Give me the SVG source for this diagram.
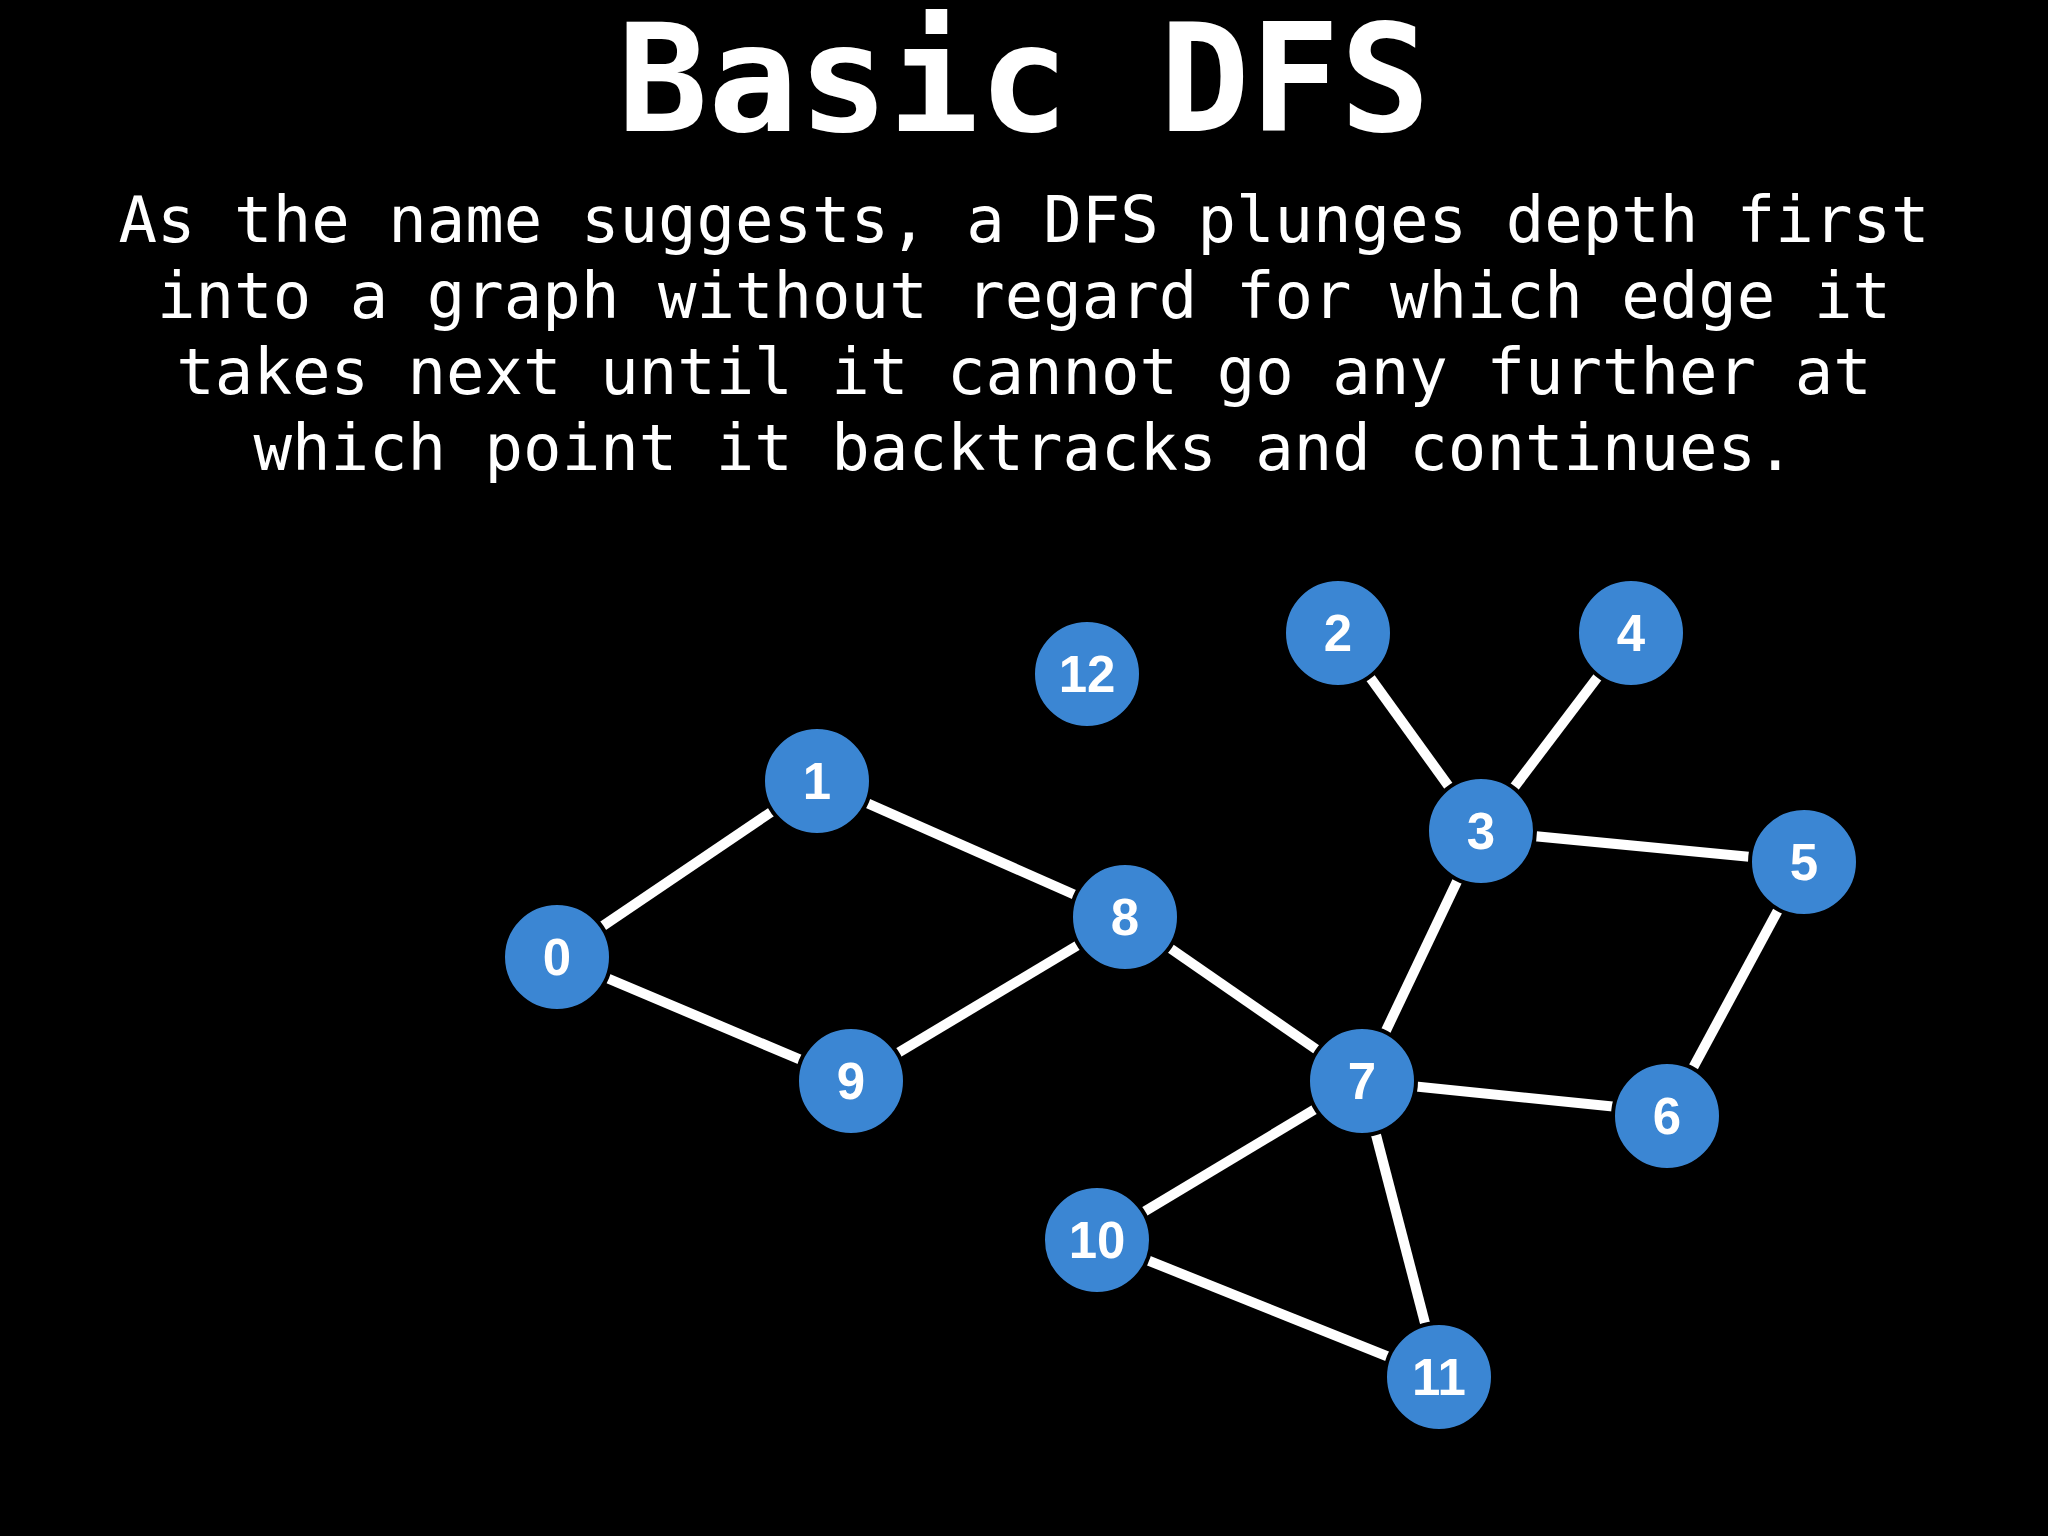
<svg xmlns="http://www.w3.org/2000/svg" width="2048" height="1536" viewBox="0 0 2048 1536">
<style>
.title{font-family:"DejaVu Sans Mono","Liberation Mono",monospace;font-weight:bold;font-size:150px;fill:#fff;text-anchor:middle}
.body{font-family:"DejaVu Sans Mono","Liberation Mono",monospace;font-size:64px;fill:#fff;text-anchor:middle}
.edge{stroke:#fff;stroke-width:10}
.node circle{fill:#3b86d3;stroke:#000;stroke-width:4}
.node text{font-family:"Liberation Sans",Arial,sans-serif;font-weight:bold;font-size:51px;fill:#fff;text-anchor:middle}
</style>
<rect width="2048" height="1536" fill="#000"/>
<text class="title" x="1024" y="131">Basic DFS</text>
<text class="body" x="1024" y="242">As the name suggests, a DFS plunges depth first</text>
<text class="body" x="1024" y="318">into a graph without regard for which edge it</text>
<text class="body" x="1024" y="394">takes next until it cannot go any further at</text>
<text class="body" x="1024" y="470">which point it backtracks and continues.</text>
<g id="edges">
<line class="edge" x1="557" y1="957" x2="817" y2="781"/>
<line class="edge" x1="557" y1="957" x2="851" y2="1081"/>
<line class="edge" x1="817" y1="781" x2="1125" y2="917"/>
<line class="edge" x1="851" y1="1081" x2="1125" y2="917"/>
<line class="edge" x1="1125" y1="917" x2="1362" y2="1081"/>
<line class="edge" x1="1362" y1="1081" x2="1481" y2="831"/>
<line class="edge" x1="1481" y1="831" x2="1338" y2="633"/>
<line class="edge" x1="1481" y1="831" x2="1631" y2="633"/>
<line class="edge" x1="1481" y1="831" x2="1804" y2="862"/>
<line class="edge" x1="1804" y1="862" x2="1667" y2="1116"/>
<line class="edge" x1="1362" y1="1081" x2="1667" y2="1112"/>
<line class="edge" x1="1362" y1="1081" x2="1097" y2="1240"/>
<line class="edge" x1="1362" y1="1081" x2="1439" y2="1377"/>
<line class="edge" x1="1097" y1="1240" x2="1439" y2="1377"/>
</g>
<g id="node0" class="node"><circle cx="557" cy="957" r="54"/><text x="557" y="975">0</text></g>
<g id="node1" class="node"><circle cx="817" cy="781" r="54"/><text x="817" y="799">1</text></g>
<g id="node2" class="node"><circle cx="1338" cy="633" r="54"/><text x="1338" y="651">2</text></g>
<g id="node3" class="node"><circle cx="1481" cy="831" r="54"/><text x="1481" y="849">3</text></g>
<g id="node4" class="node"><circle cx="1631" cy="633" r="54"/><text x="1631" y="651">4</text></g>
<g id="node5" class="node"><circle cx="1804" cy="862" r="54"/><text x="1804" y="880">5</text></g>
<g id="node6" class="node"><circle cx="1667" cy="1116" r="54"/><text x="1667" y="1134">6</text></g>
<g id="node7" class="node"><circle cx="1362" cy="1081" r="54"/><text x="1362" y="1099">7</text></g>
<g id="node8" class="node"><circle cx="1125" cy="917" r="54"/><text x="1125" y="935">8</text></g>
<g id="node9" class="node"><circle cx="851" cy="1081" r="54"/><text x="851" y="1099">9</text></g>
<g id="node10" class="node"><circle cx="1097" cy="1240" r="54"/><text x="1097" y="1258">10</text></g>
<g id="node11" class="node"><circle cx="1439" cy="1377" r="54"/><text x="1439" y="1395">11</text></g>
<g id="node12" class="node"><circle cx="1087" cy="674" r="54"/><text x="1087" y="692">12</text></g>
</svg>
